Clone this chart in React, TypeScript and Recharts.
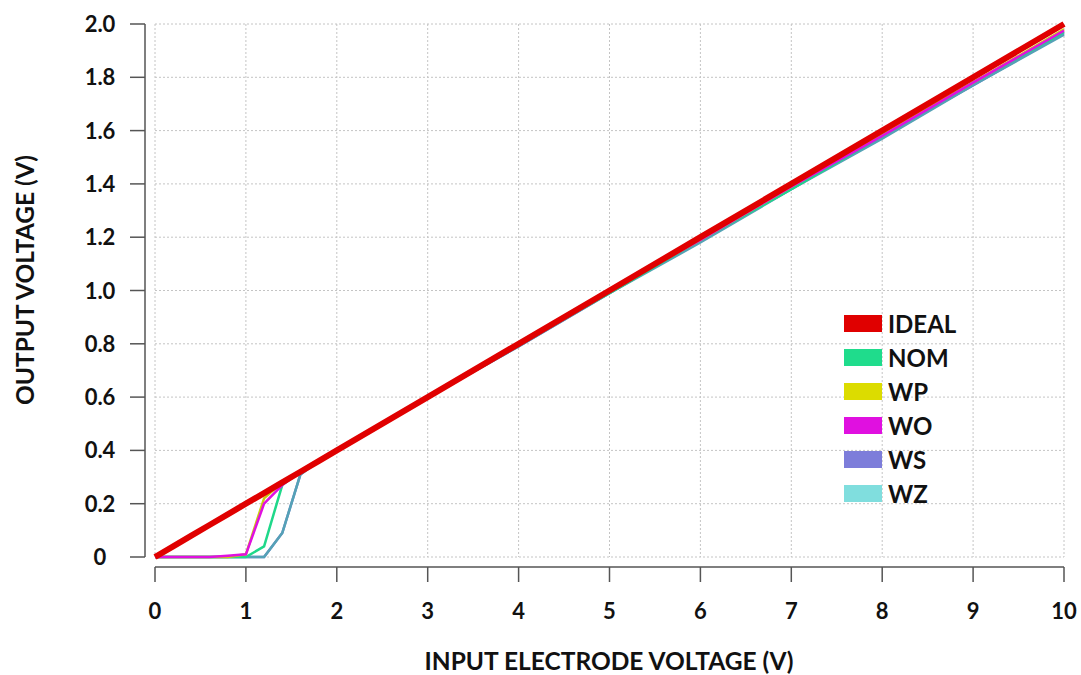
import { CartesianGrid, Line, LineChart, XAxis, YAxis } from "recharts";

const FONT = "Lato, 'Open Sans', sans-serif";

// input electrode voltage (V)
const xs = [0, 0.2, 0.4, 0.6, 0.8, 1.0, 1.2, 1.4, 1.6, 1.8, 2, 3, 4, 5, 6, 7, 8, 9, 10];

// output voltage (V) per corner
const ideal = [0, 0.04, 0.08, 0.12, 0.16, 0.2, 0.24, 0.28, 0.32, 0.36, 0.4, 0.6, 0.8, 1.0, 1.2, 1.4, 1.6, 1.8, 2.0];
const nom = [0, 0, 0, 0, 0, 0, 0.04, 0.27, 0.32, 0.36, 0.4, 0.6, 0.8, 0.99, 1.19, 1.38, 1.58, 1.78, 1.97];
const wp = [0, 0, 0, 0, 0, 0.01, 0.22, 0.28, 0.32, 0.36, 0.4, 0.6, 0.8, 1.0, 1.19, 1.39, 1.59, 1.78, 1.98];
const wo = [0, 0, 0, 0, 0.005, 0.01, 0.2, 0.27, 0.32, 0.36, 0.4, 0.6, 0.8, 1.0, 1.19, 1.39, 1.58, 1.78, 1.975];
const ws = [0, 0, 0, 0, 0, 0, 0, 0.09, 0.31, 0.36, 0.4, 0.6, 0.79, 0.99, 1.19, 1.38, 1.58, 1.77, 1.965];
const wz = [0, 0, 0, 0, 0, 0, 0, 0.09, 0.31, 0.36, 0.4, 0.6, 0.79, 0.99, 1.18, 1.38, 1.57, 1.77, 1.96];

const xTicks = [0, 1, 2, 3, 4, 5, 6, 7, 8, 9, 10];
const yTicks = [0, 0.2, 0.4, 0.6, 0.8, 1.0, 1.2, 1.4, 1.6, 1.8, 2.0];

// legend order; drawn in a different order below so red sits on top
const series = [
  { key: "ideal", name: "IDEAL", swatch: "#e00000", line: "#e00000", width: 6 },
  { key: "nom", name: "NOM", swatch: "#1fdc8c", line: "#1fd88a", width: 2.5 },
  { key: "wp", name: "WP", swatch: "#dcdc00", line: "#cccc10", width: 2.5 },
  { key: "wo", name: "WO", swatch: "#e010e0", line: "#e010e0", width: 2.5 },
  { key: "ws", name: "WS", swatch: "#7d7dda", line: "#6f7cd0", width: 2.5 },
  { key: "wz", name: "WZ", swatch: "#80dede", line: "#55a2b6", width: 2.5 },
];
const drawOrder = ["ws", "wz", "nom", "wp", "wo", "ideal"];

const data = xs.map((x, i) => ({
  x,
  ideal: ideal[i],
  nom: nom[i],
  wp: wp[i],
  wo: wo[i],
  ws: ws[i],
  wz: wz[i],
}));

const axisStroke = "#555";

function XTick({ x, y, payload }: any) {
  return (
    <text x={x} y={y} dy={17} textAnchor="middle" fontSize={22} fontWeight={700} fill="#111" fontFamily={FONT}>
      {payload.value}
    </text>
  );
}

// labels in the source are centred in their column, not right-aligned
function YTick({ x, y, payload }: any) {
  const v = payload.value as number;
  return (
    <text x={x - 17} y={y} dy={8} textAnchor="middle" fontSize={22} fontWeight={700} fill="#111" fontFamily={FONT}>
      {v === 0 ? "0" : v.toFixed(1)}
    </text>
  );
}

function LegendBox() {
  return (
    <div style={{ position: "absolute", left: 844, top: 306, fontFamily: FONT }}>
      {series.map((s) => (
        <div key={s.key} style={{ display: "flex", alignItems: "center", height: 34 }}>
          <div style={{ width: 38, height: 17, background: s.swatch, marginRight: 6 }} />
          <span style={{ fontSize: 24, fontWeight: 700, color: "#111" }}>{s.name}</span>
        </div>
      ))}
    </div>
  );
}

export default function App() {
  return (
    <div style={{ position: "absolute", left: 0, top: 0, width: 1081, height: 675, background: "#fff" }}>
      <LineChart
        width={1081}
        height={675}
        data={data}
        margin={{ top: 24, right: 17, bottom: 0, left: 0 }}
        style={{ fontFamily: FONT }}
      >
        <CartesianGrid stroke="#c4c4c4" strokeDasharray="2 2" />
        <XAxis
          dataKey="x"
          type="number"
          domain={[0, 10]}
          ticks={xTicks}
          height={118}
          tickSize={15}
          tickMargin={30}
          stroke={axisStroke}
          axisLine={{ stroke: axisStroke, strokeWidth: 1.5, transform: "translate(0,10)" }}
          tickLine={{ stroke: axisStroke, strokeWidth: 1.5, transform: "translate(0,10)" }}
          tick={<XTick />}
          label={() => (
            <text x={609} y={670} textAnchor="middle" fontSize={24.5} fontWeight={700} fill="#111" fontFamily={FONT}>
              INPUT ELECTRODE VOLTAGE (V)
            </text>
          )}
        />
        <YAxis
          type="number"
          domain={[0, 2]}
          ticks={yTicks}
          width={155}
          tickSize={15}
          tickMargin={23}
          stroke={axisStroke}
          axisLine={{ stroke: axisStroke, strokeWidth: 1.5, transform: "translate(-10,0)" }}
          tickLine={{ stroke: axisStroke, strokeWidth: 1.5, transform: "translate(-10,0)" }}
          tick={<YTick />}
          label={() => (
            <text
              x={34}
              y={280}
              transform="rotate(-90 34 280)"
              textAnchor="middle"
              fontSize={24.5}
              fontWeight={700}
              fill="#111"
              fontFamily={FONT}
            >
              OUTPUT VOLTAGE (V)
            </text>
          )}
        />
        {drawOrder.map((k) => {
          const s = series.find((d) => d.key === k)!;
          return (
            <Line
              key={k}
              dataKey={k}
              name={s.name}
              stroke={s.line}
              strokeWidth={s.width}
              dot={false}
              activeDot={false}
              type="linear"
              isAnimationActive={false}
            />
          );
        })}
      </LineChart>
      <LegendBox />
    </div>
  );
}
